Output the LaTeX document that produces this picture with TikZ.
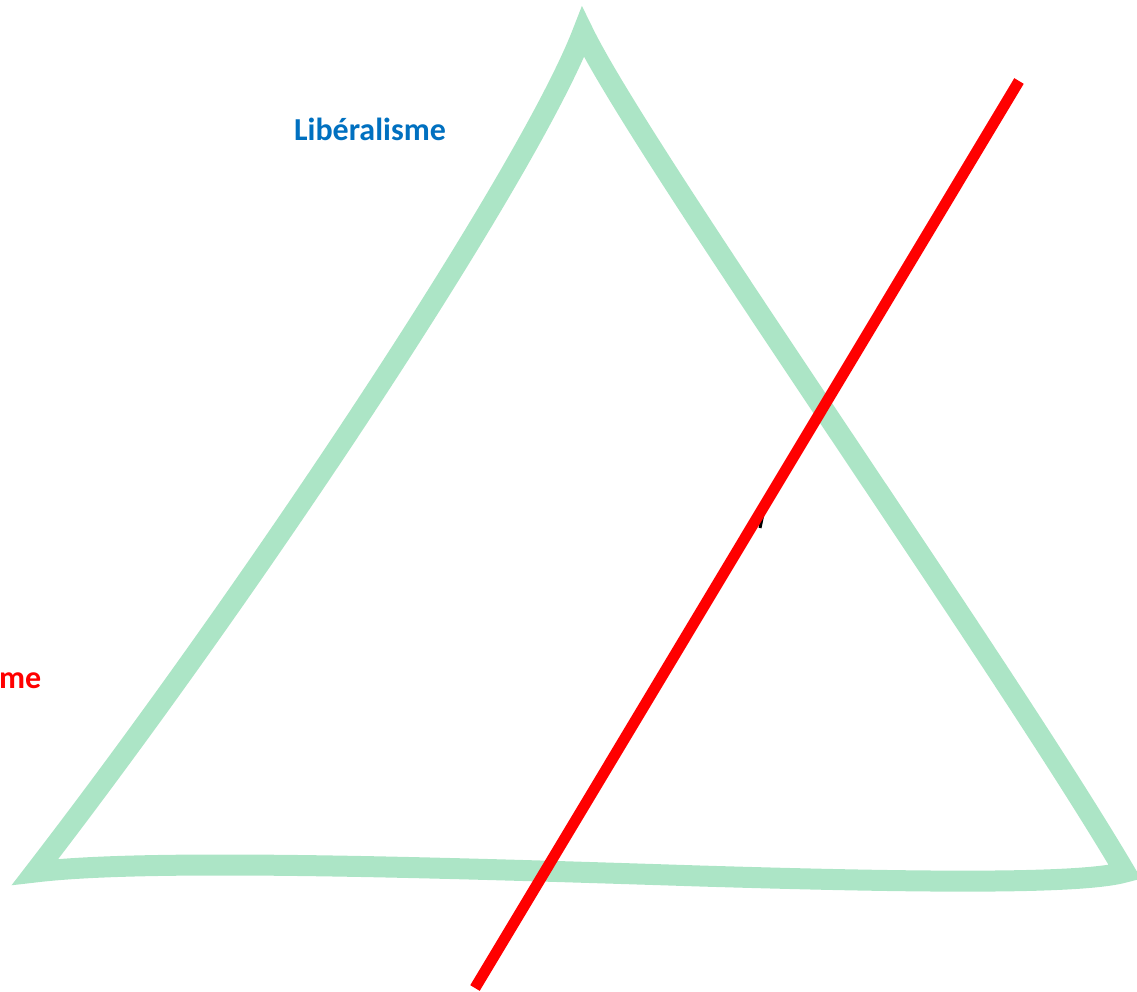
\documentclass[tikz,border=0pt]{standalone}
\usepackage{fontspec}
\setmainfont{Carlito}
\usetikzlibrary{positioning}
\definecolor{mint}{RGB}{172,229,198}
\definecolor{libblue}{RGB}{0,112,192}
\definecolor{cutred}{RGB}{255,0,0}
\begin{document}
\begin{tikzpicture}[
  x=1pt, y=-1pt,
  outline/.style={draw=mint, line width=21pt, line join=miter},
  cutline/.style={draw=cutred, line width=11pt},
  word/.style={font=\fontsize{32}{38}\selectfont\bfseries, anchor=base, inner sep=0pt}
]
  \useasboundingbox (0,0) rectangle (1137,992);
  \coordinate (left) at (35,872);
  \coordinate (apex) at (583,32);
  \coordinate (right) at (1125,872);
  \coordinate (base) at (700,876);
  \draw[outline] (left) .. controls (260,580) and (530,170) .. (apex)
    .. controls (640,150) and (1000,660) .. (right)
    .. controls (1080,885) and (900,882) .. (base)
    .. controls (450,868) and (150,858) .. cycle;
  \draw[line width=3pt] (760,528) -- (763,514);
  \coordinate (cuttop) at (1019,81);
  \coordinate (cutbottom) at (475,988);
  \draw[cutline] (cuttop) -- (cutbottom);
  \node[word, text=libblue] (lib) at (370,141) {Libéralisme};
  \node[word, text=cutred, anchor=base west] (soc) at (-1,688) {me};
\end{tikzpicture}
\end{document}
